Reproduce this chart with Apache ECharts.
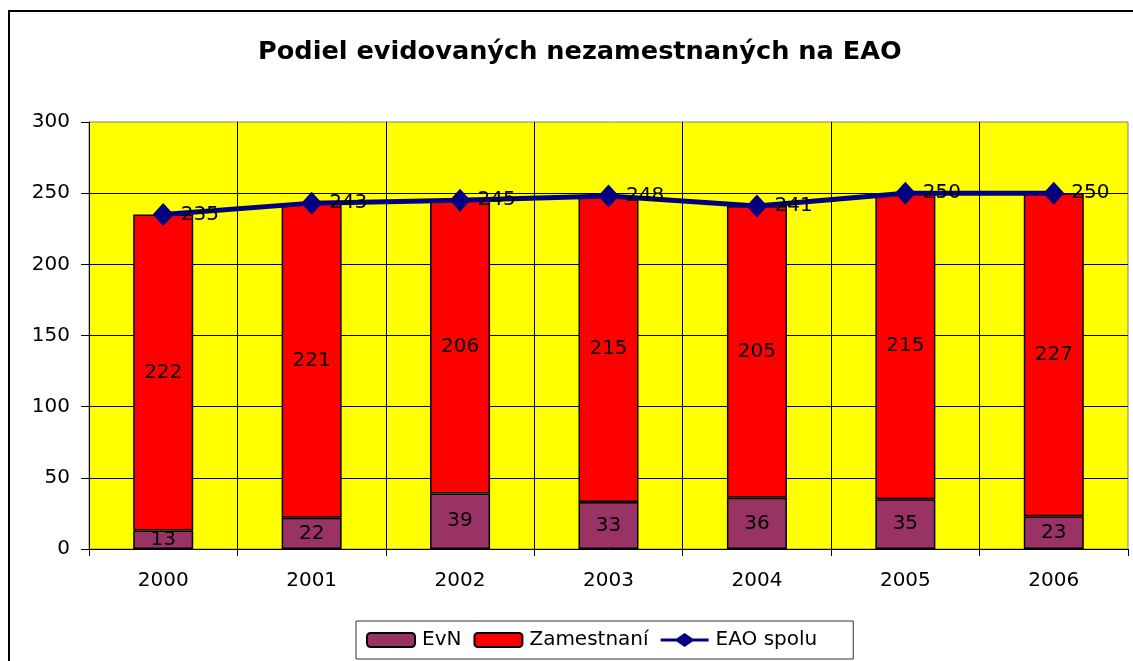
<!DOCTYPE html>
<html>
<head>
<meta charset="UTF-8">
<title>Podiel evidovaných nezamestnaných na EAO</title>
<script type="text/javascript" src="https://cdn.jsdelivr.net/npm/echarts@6/dist/echarts.min.js"></script>
<style>
html,body{margin:0;padding:0;background:#fff;}
</style>
</head>
<body>
<div id="box" style="width:1133px;height:661px;"></div>

<script type="text/javascript">
// roky
var years=['2000','2001','2002','2003','2004','2005','2006'];
// evidovani nezamestnani
var evn=[13,22,39,33,36,35,23];
// zamestnani
var zamestnani=[222,221,206,215,205,215,227];
// EAO spolu
var eao=[235,243,245,248,241,250,250];

var font='DejaVu Sans';
var mychart=echarts.init(document.getElementById('box'));

mychart.setOption({
    animation:false,
    textStyle:{fontFamily:font,color:'#000'},
    title:{
       text:'Podiel evidovaných nezamestnaných na EAO',
       left:253,
       top:34,
       textStyle:{fontFamily:font,fontSize:25.6,fontWeight:'bold',color:'#000'}
    },
    graphic:[{
       type:'rect',
       shape:{x:9,y:11,width:1200,height:720},
       style:{fill:'none',stroke:'#000',lineWidth:2},
       silent:true
    }],
    legend:{
       left:356,
       top:621,
       padding:[9,36,9,10],
       itemGap:12,
       itemWidth:48,
       itemHeight:14,
       borderColor:'#333',
       borderWidth:1,
       textStyle:{fontFamily:font,fontSize:20,color:'#000',padding:[0,0,0,2]},
       data:['EvN','Zamestnaní',{
          name:'EAO spolu',
          icon:'path://M0,5.5 L16,5.5 L24,0 L32,5.5 L48,5.5 L48,8.5 L32,8.5 L24,14 L16,8.5 L0,8.5 Z',
          itemStyle:{color:'#000080',borderWidth:0}
       }]
    },
    grid:{
       left:89,right:5,top:122,bottom:112,
       show:true,
       backgroundColor:'#ffff00',
       borderColor:'#808080',
       borderWidth:1
    },
    xAxis:{
       type:'category',
       data:years,
       axisLine:{lineStyle:{color:'#000',width:1}},
       axisTick:{show:true,length:7,lineStyle:{color:'#000'}},
       axisLabel:{fontFamily:font,fontSize:20,color:'#000',margin:22},
       splitLine:{show:true,showMinLine:false,showMaxLine:false,lineStyle:{color:'#000',width:1}}
    },
    yAxis:{
       type:'value',
       min:0,max:300,interval:50,
       axisLine:{show:true,lineStyle:{color:'#000',width:1}},
       axisTick:{show:true,length:8,lineStyle:{color:'#000'}},
       axisLabel:{fontFamily:font,fontSize:20,color:'#000',margin:19},
       splitLine:{show:true,showMinLine:false,showMaxLine:false,lineStyle:{color:'#000',width:1}}
    },
    series:[{
      name:'EvN',
      type:'bar',
      stack:'a',
      barWidth:60,
      data:evn,
      itemStyle:{color:'#993366',borderColor:'#000',borderWidth:1.5},
      label:{show:true,position:'inside',fontFamily:font,fontSize:20,color:'#000'}
    },{
      name:'Zamestnaní',
      type:'bar',
      stack:'a',
      barWidth:60,
      data:zamestnani,
      itemStyle:{color:'#ff0000',borderColor:'#000',borderWidth:1.5},
      label:{show:true,position:'inside',fontFamily:font,fontSize:20,color:'#000'}
    },{
      name:'EAO spolu',
      type:'line',
      data:eao,
      symbol:'diamond',
      symbolSize:[21,23],
      lineStyle:{color:'#000080',width:5},
      itemStyle:{color:'#000080'},
      label:{show:true,position:'right',distance:7,fontFamily:font,fontSize:20,color:'#000'},
      z:5
    }]
});
</script>
</body>
</html>
